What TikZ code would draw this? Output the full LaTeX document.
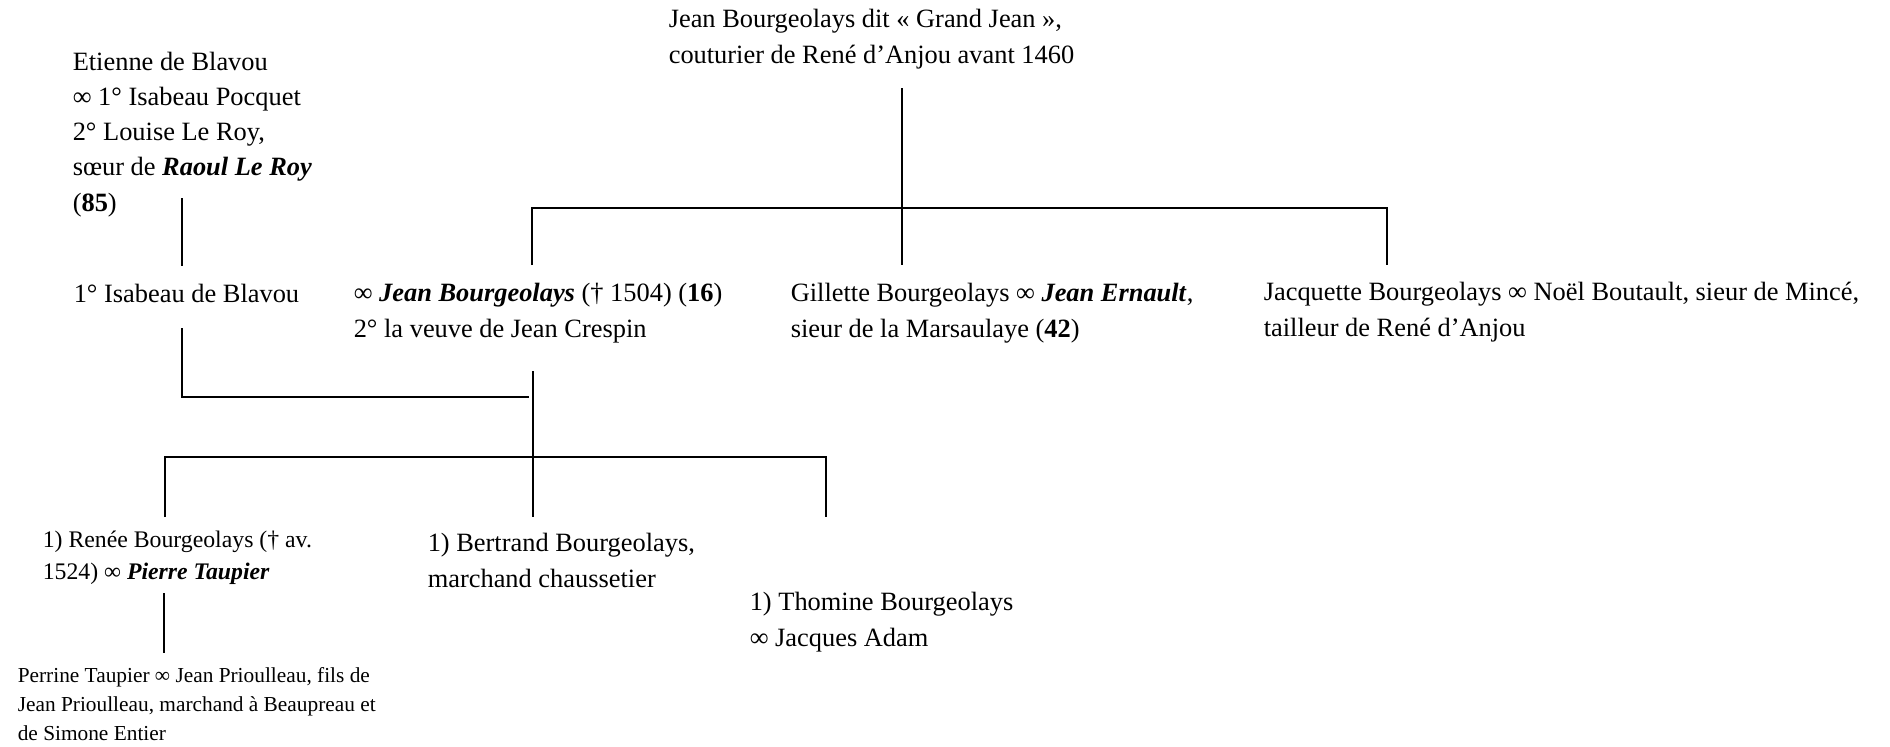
\documentclass[tikz,border=0pt]{standalone}
\usepackage{fontspec}
\setmainfont{Liberation Serif}
\usepackage{tikz}

\newcommand{\bi}[1]{\textbf{\textit{#1}}}

\begin{document}
\begin{tikzpicture}[x=0.4545pt,y=-0.4545pt,line width=0.7pt,
    person/.style={anchor=base west,inner sep=0pt,align=left,
        font=\fontsize{12}{16}\selectfont},
    small/.style={font=\fontsize{10.8}{14.5}\selectfont},
    smaller/.style={font=\fontsize{9.7}{13}\selectfont}]
    \useasboundingbox (0,0) rectangle (1890,746);
    % persons (placed at the baseline of their last line)
    \node [person] (grandjean) at (668,63) {Jean Bourgeolays dit « Grand Jean »,\\couturier de René d’Anjou avant 1460};
    \node [person] (etienne) at (72,211) {Etienne de Blavou\\∞ 1° Isabeau Pocquet\\2° Louise Le Roy,\\sœur de \bi{Raoul Le Roy}\\(\textbf{85})};
    \node [person] (isabeau) at (73,302) {1° Isabeau de Blavou};
    \node [person] (jean) at (353,337) {∞ \bi{Jean Bourgeolays} († 1504) (\textbf{16})\\2° la veuve de Jean Crespin};
    \node [person] (gillette) at (790,337) {Gillette Bourgeolays ∞ \bi{Jean Ernault},\\sieur de la Marsaulaye (\textbf{42})};
    \node [person] (jacquette) at (1263,336) {Jacquette Bourgeolays ∞ Noël Boutault, sieur de Mincé,\\tailleur de René d’Anjou};
    \node [person,small] (renee) at (42,579) {1) Renée Bourgeolays († av.\\1524) ∞ \bi{Pierre Taupier}};
    \node [person] (bertrand) at (427,587) {1) Bertrand Bourgeolays,\\marchand chaussetier};
    \node [person] (thomine) at (749,646) {1) Thomine Bourgeolays\\∞ Jacques Adam};
    \node [person,smaller] (perrine) at (17,740) {Perrine Taupier ∞ Jean Prioulleau, fils de\\Jean Prioulleau, marchand à Beaupreau et\\de Simone Entier};
    % line ends
    \coordinate (grandjean-s) at (902,88);
    \coordinate (gillette-n) at (902,265);
    \coordinate (jean-n) at (532,265);
    \coordinate (jacquette-n) at (1387,265);
    \coordinate (etienne-s) at (182,198);
    \coordinate (isabeau-n) at (182,266);
    \coordinate (isabeau-s) at (182,328);
    \coordinate (jean-s) at (529,397);
    \coordinate (couple-s) at (533,371);
    \coordinate (bertrand-n) at (533,517);
    \coordinate (renee-n) at (165,517);
    \coordinate (thomine-n) at (826,517);
    \coordinate (renee-s) at (164,593);
    \coordinate (perrine-n) at (164,653);
    % first generation
    \draw (grandjean-s) -- (gillette-n);
    \draw (jean-n) |- (902,208) -| (jacquette-n);
    \draw (etienne-s) -- (isabeau-n);
    % marriage and children
    \draw [line width=1pt] (isabeau-s) |- (jean-s);
    \draw (couple-s) -- (bertrand-n);
    \draw [line width=1pt] (renee-n) |- (533,457) -| (thomine-n);
    \draw (renee-s) -- (perrine-n);
\end{tikzpicture}
\end{document}
